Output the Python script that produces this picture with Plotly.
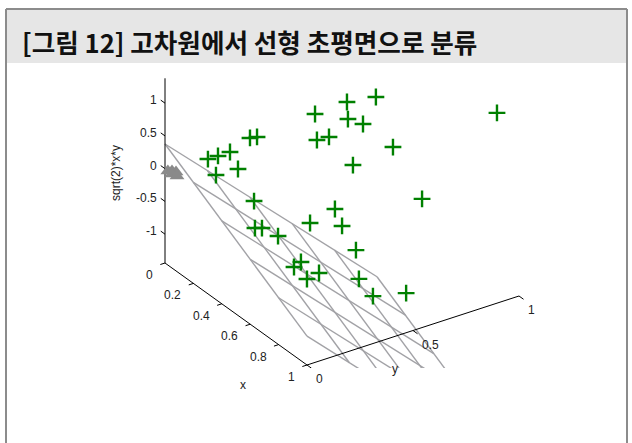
import numpy as np
import plotly.graph_objects as go

# ---------------- data ----------------
# original 2-D samples, mapped to (x1^2, x2^2, sqrt(2)*x1*x2)
pos_x1 = [0.320, 0.346, 0.371, 0.491, 0.541, 0.296, 0.338, 0.728, 0.672, 0.669, 0.712,
          0.948, 0.977, 0.986, 1.039, 0.385, 0.418, 0.035, 0.603, 0.173, 0.637, 0.657,
          0.406, 0.361, 0.969, 0.623, 0.603, 0.933, 0.683, 0.791, 0.910, 0.980, 0.968]
pos_x2 = [0.366, 0.412, 0.463, 0.281, 0.385, 0.585, 0.598, 0.255, -0.349, -0.397, -0.440,
          -0.081, 0.043, -0.136, 0.058, 0.780, 0.861, 0.997, 0.787, -0.956, 0.667, 0.696,
          -0.881, -0.994, 0.968, -0.976, -0.747, 0.318, -0.723, -0.694, -0.600, -0.581, -0.714]
neg_x1 = [0.138, 0.137, 0.166, 0.213, 0.235]
neg_x2 = [-0.027, -0.143, -0.183, -0.041, -0.140]

# separating hyperplane  z = w0 + w1*x + w2*y, sampled on a grid
plane_w = [0.377, -1.377, -3.08]
plane_grid = [0.0, 0.2, 0.4, 0.6, 0.8, 1.0]

x_ticks = [0, 0.2, 0.4, 0.6, 0.8, 1]
x_tick_labels = ["0", "0.2", "0.4", "0.6", "0.8", "1"]
y_ticks = [0, 0.5, 1]
y_tick_labels = ["0", "0.5", "1"]
z_ticks = [-1, -0.5, 0, 0.5, 1]
z_tick_labels = ["-1", "-0.5", "0", "0.5", "1"]
title_text = "[그림 12] 고차원에서 선형 초평면으로 분류"

# ---------------- view (orthographic projection, screen px) ----------------
W, H = 632, 443
PB = 368                   # screen y of plot-area bottom (surfaces clip here)
ORG = (165.0, 168.68)      # screen position of (0,0,0)
EX = (142.0, 102.0)
EY = (212.0, -69.0)
EZ = (0.0, -65.5)
ZBASE, ZTOP = -1.44, 1.38


def proj(x, y, z):
    x = np.asarray(x, float); y = np.asarray(y, float); z = np.asarray(z, float)
    sx = ORG[0] + EX[0] * x + EY[0] * y + EZ[0] * z
    sy = ORG[1] + EX[1] * x + EY[1] * y + EZ[1] * z
    return sx, sy


def feat(a, b):
    a = np.asarray(a); b = np.asarray(b)
    return a ** 2, b ** 2, np.sqrt(2) * a * b


def ppx(sx):
    return sx / W


def ppy(sy):
    return (PB - sy) / PB


fig = go.Figure()

# plane mesh
mx, my = [], []
g = np.array(plane_grid)
for xv in plane_grid:
    sx, sy = proj(np.full_like(g, xv), g, plane_w[0] + plane_w[1] * xv + plane_w[2] * g)
    mx += list(sx) + [None]; my += list(sy) + [None]
for yv in plane_grid:
    sx, sy = proj(g, np.full_like(g, yv), plane_w[0] + plane_w[1] * g + plane_w[2] * yv)
    mx += list(sx) + [None]; my += list(sy) + [None]
fig.add_trace(go.Scatter(x=mx, y=my, mode="lines", line=dict(color="#a2a2a6", width=1.4),
                         hoverinfo="skip", showlegend=False))

# axes (base x, base y, vertical z)
ax_x, ax_y = [], []


def seg(p0, p1):
    s0 = proj(*p0); s1 = proj(*p1)
    ax_x.extend([float(s0[0]), float(s1[0]), None]); ax_y.extend([float(s0[1]), float(s1[1]), None])


seg((0, 0, ZBASE), (1, 0, ZBASE))
seg((1, 0, ZBASE), (1, 1, ZBASE))
seg((0, 0, ZBASE), (0, 0, ZTOP))
for t in x_ticks:
    seg((t, 0, ZBASE), (t, -0.022, ZBASE))
for t in y_ticks:
    seg((1, t, ZBASE), (1.032, t, ZBASE))
for t in z_ticks:
    seg((0, 0, t), (-0.03, 0, t))
fig.add_trace(go.Scatter(x=ax_x, y=ax_y, mode="lines", line=dict(color="#000000", width=1),
                         hoverinfo="skip", showlegend=False))

# negative class (triangles)
fx, fy, fz = feat(neg_x1, neg_x2)
sx, sy = proj(fx, fy, fz)
fig.add_trace(go.Scatter(x=sx, y=sy, mode="markers",
                         marker=dict(symbol="triangle-up", size=13, color="#8a8a8a"),
                         showlegend=False))
# positive class (crosses)
fx, fy, fz = feat(pos_x1, pos_x2)
sx, sy = proj(fx, fy, fz)
fig.add_trace(go.Scatter(x=sx, y=sy, mode="markers",
                         marker=dict(symbol="cross-thin", size=12,
                                     line=dict(color="#008000", width=2.4)),
                         showlegend=False))

ann = []
tfont = dict(family="Liberation Sans, Arial, sans-serif", size=12, color="#222222")
for t, lab in zip(x_ticks, x_tick_labels):
    s = proj(t, 0, ZBASE)
    ann.append(dict(x=float(s[0]), y=float(s[1]), text=lab, showarrow=False, xanchor="right",
                    yanchor="middle", xshift=-10, yshift=-12, font=tfont))
for t, lab in zip(y_ticks, y_tick_labels):
    s = proj(1, t, ZBASE)
    ann.append(dict(x=float(s[0]), y=float(s[1]), text=lab, showarrow=False, xanchor="left",
                    yanchor="middle", xshift=7, yshift=-14, font=tfont))
for t, lab in zip(z_ticks, z_tick_labels):
    s = proj(0, 0, t)
    ann.append(dict(x=float(s[0]), y=float(s[1]), text=lab, showarrow=False, xanchor="right",
                    yanchor="middle", xshift=-6, yshift=3, font=tfont))
# axis titles
ann.append(dict(x=ppx(243), y=ppy(385), xref="paper", yref="paper", text="x", showarrow=False,
                xanchor="center", yanchor="middle", font=tfont))
ann.append(dict(x=ppx(395), y=ppy(369), xref="paper", yref="paper", text="y", showarrow=False,
                xanchor="center", yanchor="middle", font=tfont))
ann.append(dict(x=ppx(116), y=ppy(173), xref="paper", yref="paper", text="sqrt(2)*x*y",
                showarrow=False, textangle=-90, xanchor="center", yanchor="middle", font=tfont))
# header title
ann.append(dict(x=ppx(20), y=ppy(41), xref="paper", yref="paper", text=title_text,
                showarrow=False, xanchor="left", yanchor="middle",
                font=dict(family="Noto Sans CJK KR", size=25.6, color="#111111", weight="bold")))

frame = dict(color="#8c8c8c", width=2)
shapes = [
    dict(type="rect", xref="paper", yref="paper", x0=ppx(7), x1=ppx(626), y0=ppy(10), y1=ppy(63),
         fillcolor="#e6e6e6", line=dict(width=0), layer="below"),
    dict(type="line", xref="paper", yref="paper", x0=ppx(6), x1=ppx(6), y0=ppy(9), y1=ppy(H),
         line=frame, layer="above"),
    dict(type="line", xref="paper", yref="paper", x0=ppx(627), x1=ppx(627), y0=ppy(9), y1=ppy(H),
         line=frame, layer="above"),
    dict(type="line", xref="paper", yref="paper", x0=ppx(6), x1=ppx(627), y0=ppy(9), y1=ppy(9),
         line=frame, layer="above"),
]

fig.update_layout(
    width=W, height=H, margin=dict(l=0, r=0, t=0, b=H - PB, pad=0),
    paper_bgcolor="white", plot_bgcolor="rgba(0,0,0,0)",
    xaxis=dict(range=[0, W], visible=False, fixedrange=True),
    yaxis=dict(range=[PB, 0], visible=False, fixedrange=True),
    annotations=ann, shapes=shapes, showlegend=False,
)
fig.write_html("out.html", config={"displayModeBar": False},
               post_script="document.body.style.margin='0px';")
